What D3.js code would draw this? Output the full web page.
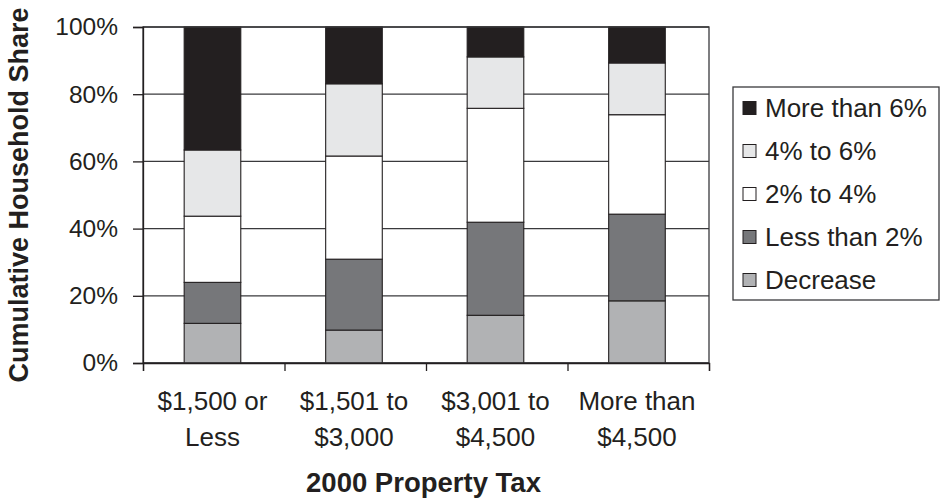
<!DOCTYPE html>
<html>
<head>
<meta charset="utf-8">
<script src="https://cdnjs.cloudflare.com/ajax/libs/d3/7.8.5/d3.min.js"></script>
<style>
  html, body { margin: 0; padding: 0; background: #fff; }
  svg { display: block; font-family: "Liberation Sans", Arial, Helvetica, sans-serif; }
</style>
</head>
<body>
<svg id="chart" width="941" height="500"></svg>
<script>
// ---- data ----
const categories = [["$1,500 or", "Less"], ["$1,501 to", "$3,000"], ["$3,001 to", "$4,500"], ["More than", "$4,500"]];
const seriesNames = ["Decrease", "Less than 2%", "2% to 4%", "4% to 6%", "More than 6%"];
const decrease   = [11.8,  9.8, 14.2, 18.5];
const lessThan2  = [12.2, 21.1, 27.7, 25.8];
const twoToFour  = [19.7, 30.7, 33.9, 29.6];
const fourToSix  = [19.7, 21.5, 15.3, 15.4];
const moreThan6  = [36.6, 16.9,  8.9, 10.7];
const yTicks = [0, 20, 40, 60, 80, 100];
const colors = ["#b1b2b4", "#76777a", "#ffffff", "#e6e7e8", "#231f20"];
const legendOrder = ["More than 6%", "4% to 6%", "2% to 4%", "Less than 2%", "Decrease"];

const seriesValues = [decrease, lessThan2, twoToFour, fourToSix, moreThan6];
const rows = categories.map((c, i) => {
  const r = { cat: c.join(" ") };
  seriesNames.forEach((s, k) => r[s] = seriesValues[k][i]);
  return r;
});

const svg = d3.select("#chart");
const pL = 143, pR = 709, pT = 27, pB = 363;
const ink = "#231f20";

const x = d3.scaleBand().domain(rows.map(d => d.cat)).range([pL, pR]).paddingInner(0.6).paddingOuter(0.3).align(0.485);
const xb = d3.scaleLinear().domain([0, categories.length]).range([pL, pR]);
const y = d3.scaleLinear().domain([0, 100]).range([pB, pT]);
const color = d3.scaleOrdinal().domain(seriesNames).range(colors);

// gridlines
svg.append("g").selectAll("line").data(yTicks).join("line")
  .attr("x1", pL).attr("x2", pR)
  .attr("y1", d => y(d)).attr("y2", d => y(d))
  .attr("stroke", "#3a3a3c").attr("stroke-width", 1.3);

// stacked bars
const stack = d3.stack().keys(seriesNames);
const layers = stack(rows);
svg.append("g").selectAll("g").data(layers).join("g")
  .attr("fill", d => color(d.key))
  .selectAll("rect").data(d => d).join("rect")
  .attr("x", d => x(d.data.cat))
  .attr("width", x.bandwidth())
  .attr("y", d => y(d[1]))
  .attr("height", d => y(d[0]) - y(d[1]))
  .attr("stroke", ink).attr("stroke-width", 1.1);

// plot border
svg.append("rect").attr("x", pL).attr("y", pT).attr("width", pR - pL).attr("height", pB - pT)
  .attr("fill", "none").attr("stroke", "#3a3a3c").attr("stroke-width", 1.3);

// y axis
const yAxis = svg.append("g").attr("transform", `translate(${pL},0)`)
  .call(d3.axisLeft(y).tickValues(yTicks).tickFormat(d => d + "%").tickSize(10).tickPadding(15));
yAxis.select(".domain").attr("stroke", ink).attr("stroke-width", 1.3);
yAxis.selectAll(".tick line").attr("stroke", ink).attr("stroke-width", 1.3);
yAxis.selectAll(".tick text").attr("fill", ink).style("font-size", "24.5px")
  .style("font-family", "'Liberation Sans', Arial, sans-serif");

// x axis boundary ticks
const xAxis = svg.append("g").attr("transform", `translate(0,${pB})`)
  .call(d3.axisBottom(xb).tickValues(d3.range(categories.length + 1)).tickSize(8).tickFormat(""));
xAxis.select(".domain").attr("stroke", ink).attr("stroke-width", 1.3);
xAxis.selectAll(".tick line").attr("stroke", ink).attr("stroke-width", 1.3);

// x category labels
const lbl = svg.append("g").selectAll("text").data(rows).join("text")
  .attr("x", d => x(d.cat) + x.bandwidth() / 2)
  .attr("y", 410)
  .attr("text-anchor", "middle")
  .attr("fill", ink)
  .style("font-size", "26px");
lbl.each(function(d, i) {
  const t = d3.select(this);
  categories[i].forEach((line, j) => {
    t.append("tspan").attr("x", x(d.cat) + x.bandwidth() / 2).attr("dy", j === 0 ? 0 : 35.5).text(line);
  });
});

// axis titles
svg.append("text").attr("x", (pL + pR) / 2 - 2.5).attr("y", 492)
  .attr("text-anchor", "middle").attr("fill", ink)
  .style("font-size", "27.5px").style("font-weight", "bold")
  .text("2000 Property Tax");
svg.append("text").attr("transform", "translate(28,195) rotate(-90)")
  .attr("text-anchor", "middle").attr("fill", ink)
  .style("font-size", "27px").style("font-weight", "bold")
  .text("Cumulative Household Share");

// legend
const lg = svg.append("g");
lg.append("rect").attr("x", 733).attr("y", 87).attr("width", 206).attr("height", 213)
  .attr("fill", "#fff").attr("stroke", "#3a3a3c").attr("stroke-width", 1.3);
const items = lg.selectAll("g.item").data(legendOrder).join("g").attr("class", "item")
  .attr("transform", (d, i) => `translate(743,${108 + i * 43})`);
items.append("rect").attr("x", 0).attr("y", -6.5).attr("width", 13).attr("height", 13)
  .attr("fill", d => color(d)).attr("stroke", ink).attr("stroke-width", 1);
items.append("text").attr("x", 22).attr("y", 9).attr("fill", ink)
  .style("font-size", "26px").text(d => d);
</script>
</body>
</html>
